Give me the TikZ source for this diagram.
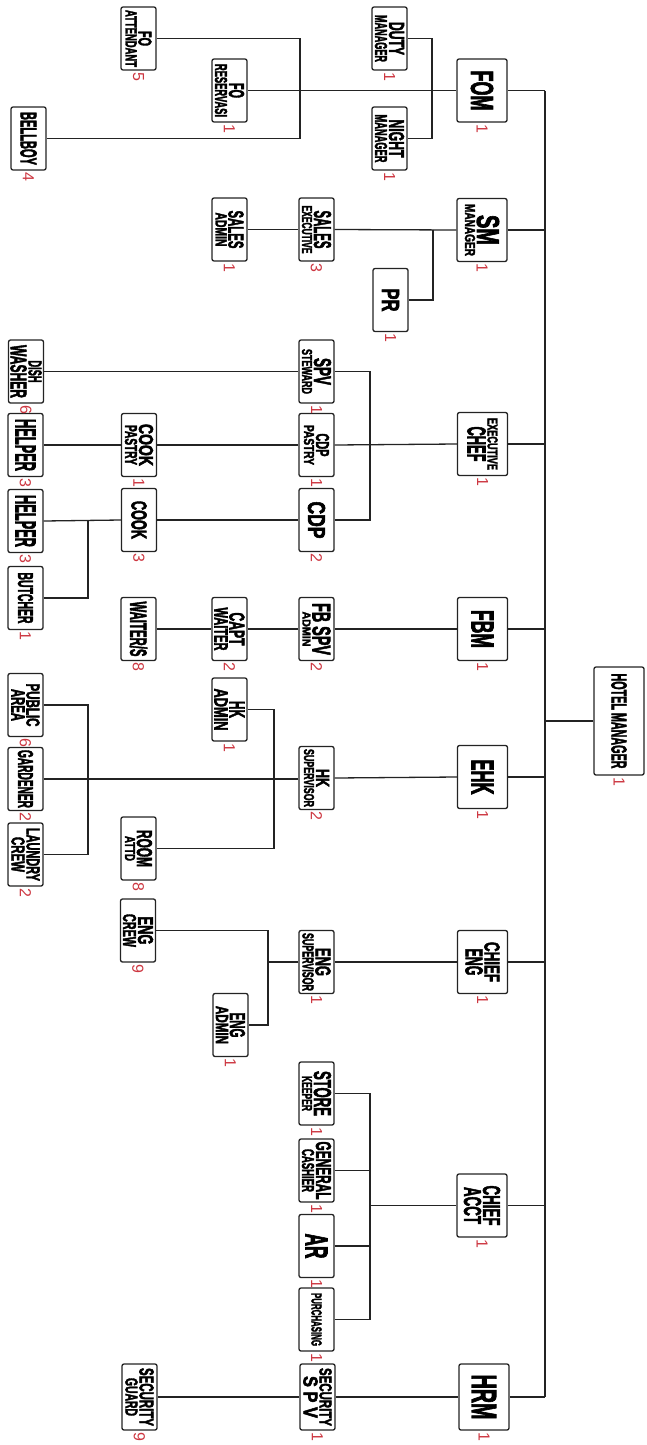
\documentclass[tikz,border=0pt]{standalone}
\usepackage{graphicx}
\usepackage{fontspec}
\newfontfamily\boxfont[FakeBold=3]{Liberation Sans}
\newfontfamily\numfont{Liberation Sans}
\usetikzlibrary{calc}
\definecolor{numred}{RGB}{205,55,65}
\definecolor{ink}{RGB}{35,35,35}
\renewcommand\arraystretch{0}
\newcommand\lin[3]{\resizebox{#2pt}{#3pt}{\boxfont\bfseries #1}}
\newcommand\one[3]{\rotatebox{-90}{\lin{#1}{#2}{#3}}}
\newcommand\two[6]{\rotatebox{-90}{\begin{tabular}{@{}c@{}}\lin{#1}{#2}{#3}\\[2pt]\lin{#4}{#5}{#6}\end{tabular}}}
\newcommand\nm[1]{\rotatebox{-90}{\numfont\fontsize{16}{16}\selectfont #1}}
\begin{document}
\begin{tikzpicture}[x=1pt,y=-1pt,
  box/.style={draw=ink, line width=1.3pt, rounded corners=2pt, fill=white, inner sep=0pt, minimum width=35pt, minimum height=63pt, text=black},
  bigbox/.style={box, minimum width=50pt},
  num/.style={text=numred, inner sep=1.5pt, anchor=north},
  wire/.style={draw=ink, line width=1.3pt}]
\useasboundingbox (0,0) rectangle (646,1445);
% coordinates of buses
\coordinate (bT) at (545,0);
\coordinate (bFO) at (300,0);
\coordinate (bDN) at (432,0);
\coordinate (bPR) at (433,0);
\coordinate (bK) at (370,0);
\coordinate (bB) at (88,0);
\coordinate (bHK) at (274,0);
\coordinate (bE) at (268,0);
\coordinate (bA) at (370,0);
% boxes
\node[bigbox] (fom) at (482,90.5) {\one{FOM}{40}{22}};
\node[box] (foatt) at (138.5,38.5) {\two{FO}{15}{13}{ATTENDANT}{57}{11}};
\node[box] (fores) at (229.5,90.5) {\two{FO}{15}{15}{RESERVASI}{53}{12}};
\node[box] (bellboy) at (28.5,138.5) {\one{BELLBOY}{53}{16}};
\node[box] (duty) at (389.5,38.5) {\two{DUTY}{33}{15}{MANAGER}{47}{12}};
\node[box] (night) at (389.5,138.5) {\two{NIGHT}{38}{15}{MANAGER}{48}{12}};
\node[box] (salesadmin) at (229.5,229.5) {\two{SALES}{38}{15}{ADMIN}{34}{11}};
\node[box] (salesexec) at (316.5,229.5) {\two{SALES}{38}{17}{EXECUTIVE}{48}{10}};
\node[bigbox] (sm) at (482,230) {\two{SM}{30}{22}{MANAGER}{52}{10}};
\node[box] (pr) at (390.5,300) {\one{PR}{23}{17}};
\node[box] (spvsteward) at (316.5,371.5) {\two{SPV}{27}{17}{STEWARD}{45}{10}};
\node[box] (dishwasher) at (26,371.5) {\two{DISH}{22}{13}{WASHER}{53}{16}};
\node[box] (helper1) at (25.5,445) {\one{HELPER}{52}{20}};
\node[box] (cookpastry) at (139,445) {\two{COOK}{42}{14}{PASTRY}{40}{12}};
\node[box] (cdppastry) at (316.5,445) {\two{CDP}{23}{13}{PASTRY}{40}{10}};
\node[box] (helper2) at (25.5,521) {\one{HELPER}{52}{20}};
\node[box] (cook) at (139,520) {\one{COOK}{38}{15}};
\node[box] (cdp) at (316.5,520) {\one{CDP}{37}{17}};
\node[box] (butcher) at (25.5,598) {\one{BUTCHER}{51}{15}};
\node[bigbox] (execchef) at (482.5,444) {\two{EXECUTIVE}{52}{10}{CHEF}{35}{18}};
\node[box] (waiters) at (138.5,629) {\one{WAITER/S}{55}{17}};
\node[box] (capt) at (229.5,629) {\two{CAPT}{33}{15}{WAITER}{43}{13}};
\node[box] (fbspv) at (316.5,629) {\two{FB SPV}{52}{18}{ADMIN}{35}{8}};
\node[bigbox] (fbm) at (482.5,629) {\one{FBM}{38}{22}};
\node[box] (public) at (25.5,705) {\two{PUBLIC}{43}{13}{AREA}{32}{13}};
\node[box] (gardener) at (25.5,779) {\one{GARDENER}{58}{15}};
\node[box] (laundry) at (25.5,854.5) {\two{LAUNDRY}{53}{13}{CREW}{35}{13}};
\node[box] (hkadmin) at (229.5,709.5) {\two{HK}{17}{15}{ADMIN}{42}{13}};
\node[box] (hksup) at (316.5,778) {\two{HK}{18}{13}{SUPERVISOR}{58}{10}};
\node[box] (roomattd) at (138.5,848.5) {\two{ROOM}{37}{15}{ATTD}{25}{10}};
\node[bigbox] (ehk) at (482.5,777) {\one{EHK}{35}{22}};
\node[bigbox, minimum height=108pt] (hm) at (619,721) {\one{HOTEL MANAGER}{95}{15}};
\node[box] (engcrew) at (138,930.5) {\two{ENG}{28}{15}{CREW}{33}{13}};
\node[box] (engsup) at (316.5,962) {\two{ENG}{28}{15}{SUPERVISOR}{58}{11}};
\node[bigbox] (chiefeng) at (482.5,962) {\two{CHIEF}{40}{15}{ENG}{27}{17}};
\node[box] (engadmin) at (230.5,1025) {\two{ENG}{25}{15}{ADMIN}{38}{12}};
\node[box] (store) at (316.5,1093.5) {\two{STORE}{45}{17}{KEEPER}{35}{10}};
\node[box] (gc) at (316.5,1170.5) {\two{GENERAL}{58}{15}{CASHIER}{43}{12}};
\node[box] (ar) at (316.5,1246) {\one{AR}{25}{22}};
\node[box] (purch) at (316.5,1319.5) {\one{PURCHASING}{53}{10}};
\node[bigbox] (chiefacct) at (482,1205.5) {\two{CHIEF}{40}{17}{ACCT}{37}{17}};
\node[box, minimum height=66pt] (secguard) at (139.5,1397) {\two{SECURITY}{58}{14}{GUARD}{38}{12}};
\node[box, minimum height=66pt] (secspv) at (317.5,1397) {\two{SECURITY}{58}{12}{S P V}{42}{14}};
\node[bigbox, minimum height=66pt] (hrm) at (484,1397) {\one{HRM}{45}{24}};
% trunk
\draw[wire] (fom.east -| bT) -- (hrm.east -| bT);
\foreach \n in {fom,sm,execchef,fbm,ehk,chiefeng,chiefacct,hrm}
  \draw[wire] (\n.east) -- (\n.east -| bT);
\draw[wire] (hm.west) -- (hm.west -| bT);
% front office
\draw[wire] (fores.east) -- (fom.west);
\draw[wire] (foatt.east) -- (foatt.east -| bFO) -- (bellboy.east -| bFO) -- (bellboy.east);
\draw[wire] (duty.east) -- (duty.east -| bDN) -- (night.east -| bDN) -- (night.east);
% sales
\draw[wire] (salesadmin.east) -- (salesexec.west);
\draw[wire] (salesexec.east) -- (sm.west);
\draw[wire] (salesexec.east -| bPR) -- (pr.east -| bPR) -- (pr.east);
% kitchen
\draw[wire] (spvsteward.east) -- (spvsteward.east -| bK) -- (cdp.east -| bK) -- (cdp.east);
\draw[wire] (cdppastry.east) -- (execchef.west);
\draw[wire] (dishwasher.east) -- (spvsteward.west);
\draw[wire] (helper1.east) -- (cookpastry.west);
\draw[wire] (cookpastry.east) -- (cdppastry.west);
\draw[wire] (helper2.east) -- (cook.west);
\draw[wire] (cook.east) -- (cdp.west);
\draw[wire] (butcher.east) -- (butcher.east -| bB) -- (helper2.east -| bB);
% F&B
\draw[wire] (waiters.east) -- (capt.west);
\draw[wire] (capt.east) -- (fbspv.west);
\draw[wire] (fbspv.east) -- (fbm.west);
% housekeeping
\draw[wire] (gardener.east) -- (gardener.east -| hksup.west);
\draw[wire] (hksup.east) -- (ehk.west);
\draw[wire] (public.east) -- (public.east -| bB) -- (laundry.east -| bB) -- (laundry.east);
\draw[wire] (hkadmin.east) -- (hkadmin.east -| bHK) -- (roomattd.east -| bHK) -- (roomattd.east);
% engineering
\draw[wire] (engcrew.east) -- (engcrew.east -| bE) -- (engadmin.east -| bE) -- (engadmin.east);
\draw[wire] (engsup.west) -- (engsup.west -| bE);
\draw[wire] (engsup.east) -- (chiefeng.west);
% accounting
\draw[wire] (store.east) -- (store.east -| bA) -- (purch.east -| bA) -- (purch.east);
\draw[wire] (gc.east) -- (gc.east -| bA);
\draw[wire] (ar.east) -- (ar.east -| bA);
\draw[wire] (chiefacct.west) -- (chiefacct.west -| bA);
% security
\draw[wire] (secguard.east) -- (secspv.west);
\draw[wire] (secspv.east) -- (hrm.west);
% numbers
\foreach \n/\t in {fom/1,foatt/5,fores/1,bellboy/4,duty/1,night/1,salesadmin/1,salesexec/3,sm/1,pr/1,
  spvsteward/1,dishwasher/6,helper1/3,cookpastry/1,cdppastry/1,helper2/3,cook/3,cdp/2,butcher/1,execchef/1,
  waiters/8,capt/2,fbspv/2,fbm/1,public/6,gardener/2,laundry/2,hkadmin/1,hksup/2,roomattd/8,ehk/1,hm/1,
  engcrew/9,engsup/1,chiefeng/1,engadmin/1,store/1,gc/1,ar/1,purch/1,chiefacct/1,secguard/9,secspv/1,hrm/1}
  \node[num] (num-\n) at (\n.south) {\nm{\t}};
\end{tikzpicture}
\end{document}
